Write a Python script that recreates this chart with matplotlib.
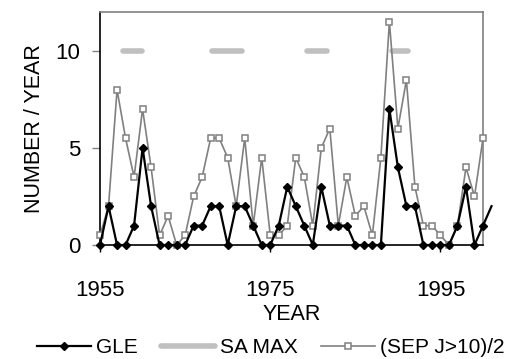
import matplotlib
matplotlib.use("Agg")
import matplotlib.pyplot as plt

plt.rcParams["font.family"] = ["Liberation Sans", "DejaVu Sans"]

# Data
years = list(range(1955, 2002))
gle = [0, 2, 0, 0, 1, 5, 2, 0, 0, 0, 0, 1,
       1, 2, 2, 0, 2, 2, 1, 0, 0, 1, 3,
       2, 1, 0, 3, 1, 1, 1, 0, 0, 0, 0,
       7, 4, 2, 2, 0, 0, 0, 0, 1, 3, 0, 1, 2]
sep_years = list(range(1955, 2001))
sep_half = [0.5, 2, 8, 5.5, 3.5, 7, 4, 0.5, 1.5, 0, 0.5, 2.5,
            3.5, 5.5, 5.5, 4.5, 2, 5.5, 1, 4.5, 0.5, 0.5, 1,
            4.5, 3.5, 1, 5, 6, 1, 3.5, 1.5, 2, 0.5, 4.5,
            11.5, 6, 8.5, 3, 1, 1, 0.5, 0, 1, 4, 2.5, 5.5]
sa_max_start = [1957.7, 1968.1, 1979.3, 1989.3]
sa_max_end = [1959.9, 1971.7, 1981.7, 1991.2]
sa_max_level = 10

fig = plt.figure(figsize=(5.14, 3.59), dpi=100)
ax = fig.add_axes([0.1946, 0.3175, 0.7451, 0.6491])

# GLE (last point drawn as line only, it runs past the frame)
ax.plot(years, gle, color="black", lw=1.6, marker="D", ms=4.2,
        markevery=list(range(len(years) - 1)), clip_on=False,
        label="GLE", zorder=4)

# SA MAX
for i, (s, e) in enumerate(zip(sa_max_start, sa_max_end)):
    ax.plot([s, e], [sa_max_level, sa_max_level], color="#c0c0c0", lw=4,
            solid_capstyle="round", label="SA MAX" if i == 0 else None,
            zorder=2)

# (SEP J>10)/2
ax.plot(sep_years, sep_half, color="#808080", lw=1.2, marker="s", ms=4.6,
        mfc="white", mec="#808080", mew=1.1, clip_on=False,
        label="(SEP J>10)/2", zorder=3)

ax.set_xlim(1955, 2000)
ax.set_ylim(0, 12)
ax.set_xticks([1955, 1975, 1995])
ax.set_yticks([0, 5, 10])
ax.tick_params(axis="x", direction="out", length=5, width=1, pad=20,
               labelsize=16, color="black")
ax.tick_params(axis="y", direction="out", length=6, width=1, pad=8,
               labelsize=16, color="#808080")

for side in ["top", "right"]:
    ax.spines[side].set_color("#808080")
    ax.spines[side].set_linewidth(1.2)
ax.spines["left"].set_color("black")
ax.spines["bottom"].set_color("black")
ax.spines["left"].set_linewidth(1.2)
ax.spines["bottom"].set_linewidth(1.2)

ax.set_xlabel("YEAR", fontsize=15.5, labelpad=2)
ax.set_ylabel("NUMBER / YEAR", fontsize=15.5, labelpad=8)

fig.legend(loc="center", bbox_to_anchor=(0.527, 0.032), ncol=3, frameon=False,
           fontsize=15, handlelength=2.6, handletextpad=0.25,
           columnspacing=1.1, numpoints=1)

fig.savefig("out.png", dpi=100)
